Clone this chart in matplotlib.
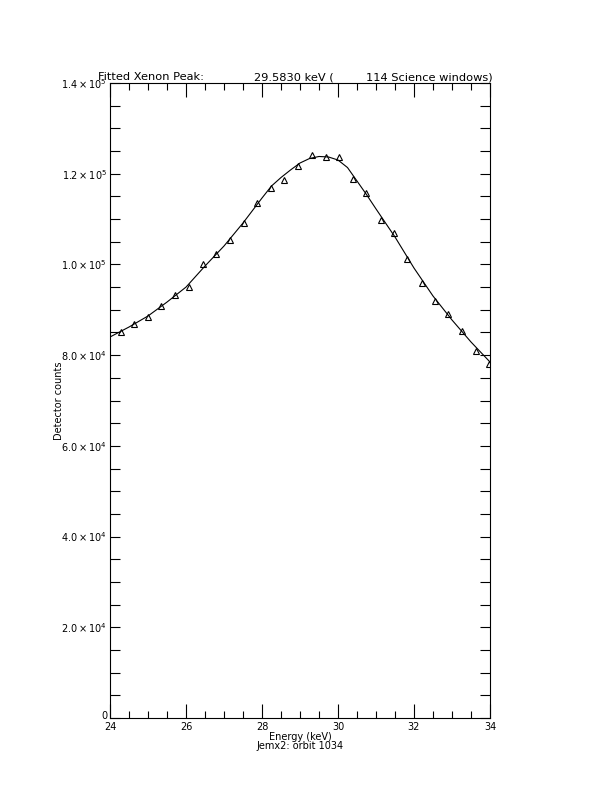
import matplotlib
matplotlib.use("Agg")
import matplotlib.pyplot as plt
import matplotlib.transforms as mtransforms
from matplotlib.ticker import MultipleLocator, FuncFormatter

# Measured data points (energy keV, detector counts)
energy = [24.28, 24.64, 24.99, 25.35, 25.72, 26.07, 26.44, 26.80, 27.16, 27.52,
          27.88, 28.23, 28.59, 28.95, 29.32, 29.68, 30.03, 30.39, 30.74, 31.12,
          31.47, 31.82, 32.20, 32.55, 32.90, 33.26, 33.63, 33.97]
counts = [85040, 86800, 88480, 90900, 93260, 95090, 100090, 102230, 105390, 109070,
          113480, 116920, 118610, 121810, 124130, 123750, 123620, 118840, 115680, 109800,
          106860, 101130, 95970, 91940, 89070, 85260, 80980, 78050]

# Fitted curve
fit_energy = [24.0, 24.5, 25.0, 25.5, 26.0, 26.5, 27.0, 27.5, 28.0, 28.25,
              28.5, 28.75, 29.0, 29.25, 29.5, 29.75, 30.0, 30.25, 30.5, 30.75,
              31.0, 31.5, 32.0, 32.5, 33.0, 33.5, 34.0]
fit_counts = [84000, 86200, 88630, 91700, 95000, 99650, 104060, 109130, 114640, 117290,
              119160, 120820, 122360, 123350, 123800, 123690, 123020, 121360, 118390, 115400,
              112240, 106050, 99200, 93040, 87750, 82900, 78490]

title_parts = ["Fitted Xenon Peak:", "29.5830 keV (", "114 Science windows)"]
xlabel = "Energy (keV)"
sublabel = "Jemx2: orbit 1034"
ylabel = "Detector counts"

plt.rcParams["mathtext.default"] = "regular"

fig = plt.figure(figsize=(6.12, 7.92), dpi=100)
W, H = 612, 792
ax = fig.add_axes([110 / W, 1 - 718 / H, 380 / W, 635 / H])

ax.plot(fit_energy, fit_counts, color="black", lw=0.8)
ax.plot(energy, counts, linestyle="none", marker="^", markersize=5,
        markerfacecolor="none", markeredgecolor="black", markeredgewidth=0.8)

ax.set_xlim(24, 34)
ax.set_ylim(0, 140000)
ax.xaxis.set_major_locator(MultipleLocator(2))
ax.xaxis.set_minor_locator(MultipleLocator(0.5))
ax.yaxis.set_major_locator(MultipleLocator(20000))
ax.yaxis.set_minor_locator(MultipleLocator(5000))


def yfmt(v, pos):
    if v == 0:
        return "0"
    exp = 0
    m = v
    while m >= 10:
        m /= 10.0
        exp += 1
    return r"$%.1f\times10^{%d}$" % (m, exp)


ax.yaxis.set_major_formatter(FuncFormatter(yfmt))
ax.xaxis.set_major_formatter(FuncFormatter(lambda v, p: "%d" % v))

ax.tick_params(axis="both", which="both", direction="in", top=True, right=True,
               width=0.8, labelsize=7, colors="black")
ax.tick_params(axis="x", which="major", length=10, pad=3)
ax.tick_params(axis="x", which="minor", length=5)
ax.tick_params(axis="y", which="major", length=7, pad=2)
ax.tick_params(axis="y", which="minor", length=7)
for s in ax.spines.values():
    s.set_linewidth(0.8)

# lift the "0" label slightly so it sits just above the x tick label "24"
fig.canvas.draw()
for lab in ax.get_yticklabels():
    if lab.get_text() == "0":
        lab.set_transform(lab.get_transform() +
                          mtransforms.ScaledTranslation(0, 3 / 100, fig.dpi_scale_trans))

fig.text(98 / W, 1 - 80 / H, title_parts[0], fontsize=8.2, ha="left", va="baseline")
fig.text(254 / W, 1 - 80 / H, title_parts[1], fontsize=8.2, ha="left", va="baseline")
fig.text(366 / W, 1 - 80 / H, title_parts[2], fontsize=8.2, ha="left", va="baseline")

fig.text(300 / W, 1 - 737 / H, xlabel, fontsize=7, ha="center", va="center")
fig.text(300 / W, 1 - 746 / H, sublabel, fontsize=7, ha="center", va="center")
fig.text(59 / W, 1 - 401 / H, ylabel, fontsize=7, ha="center", va="center",
         rotation=90)

fig.savefig("out.png", dpi=100)
